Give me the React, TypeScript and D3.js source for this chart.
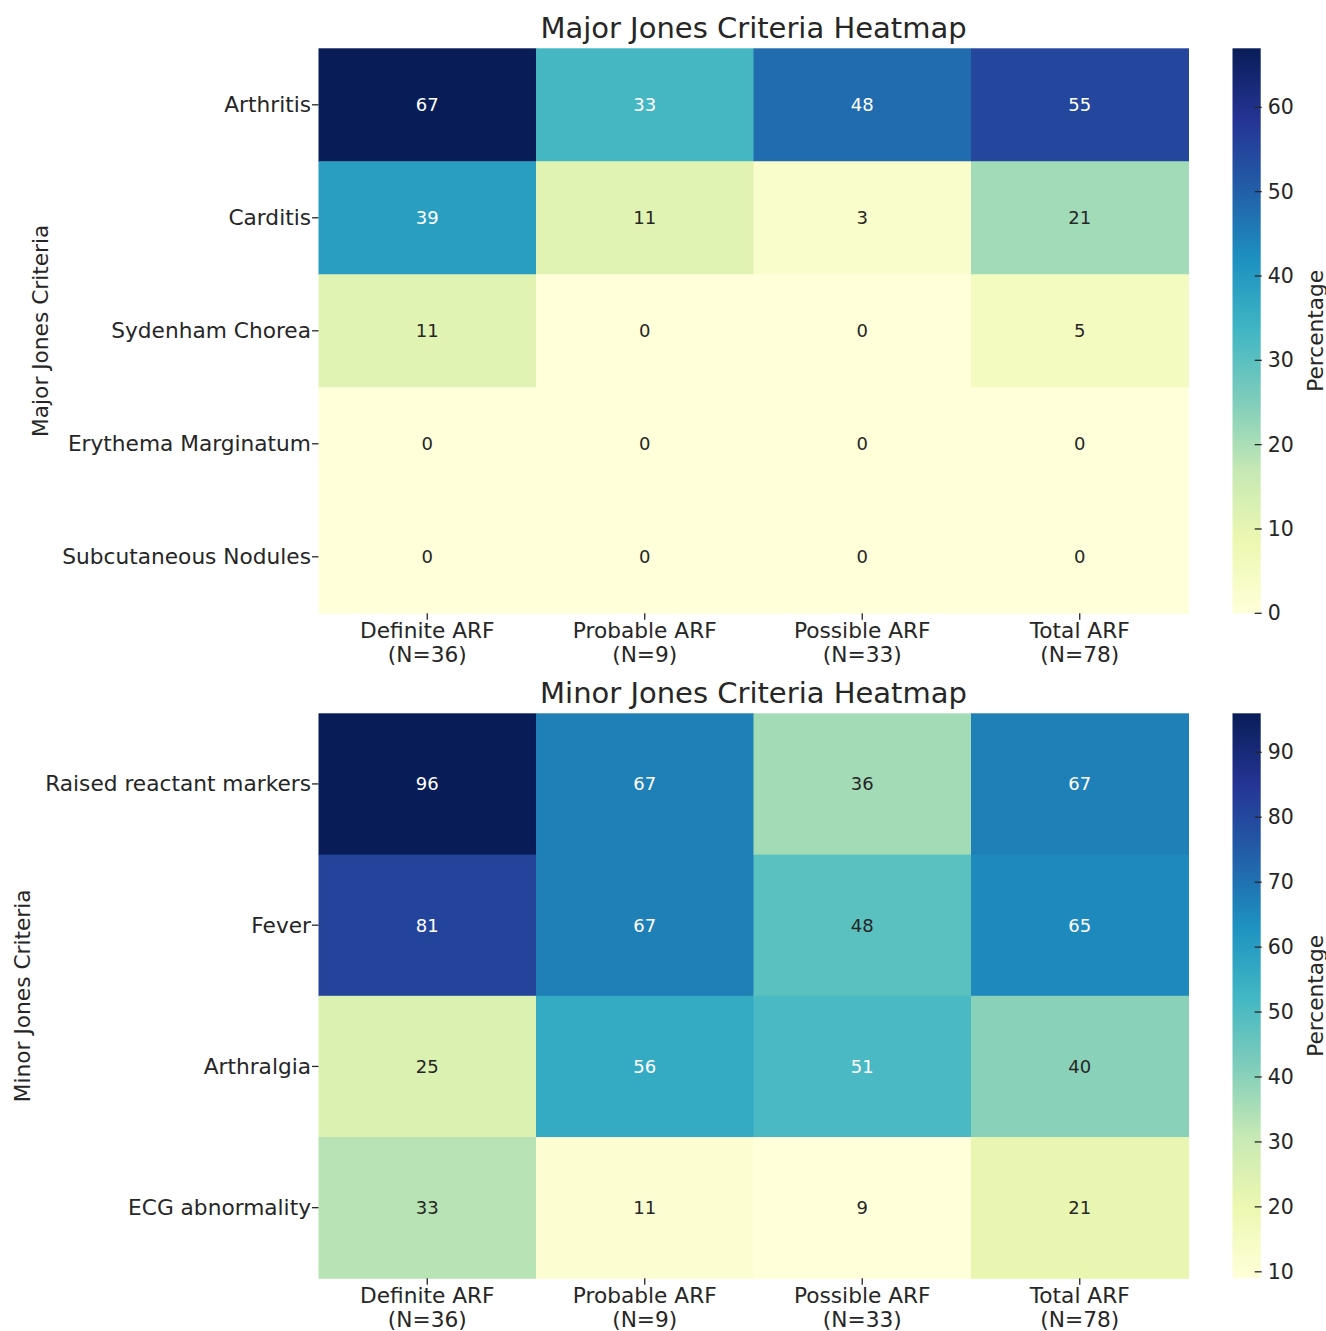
import React from "react";
import * as d3 from "d3";

const columns = ["Definite ARF\n(N=36)", "Probable ARF\n(N=9)", "Possible ARF\n(N=33)", "Total ARF\n(N=78)"];

const majorRows = ["Arthritis", "Carditis", "Sydenham Chorea", "Erythema Marginatum", "Subcutaneous Nodules"];
const majorDefinite = [67, 39, 11, 0, 0];
const majorProbable = [33, 11, 0, 0, 0];
const majorPossible = [48, 3, 0, 0, 0];
const majorTotal = [55, 21, 5, 0, 0];

const minorRows = ["Raised reactant markers", "Fever", "Arthralgia", "ECG abnormality"];
const minorDefinite = [96, 81, 25, 33];
const minorProbable = [67, 67, 56, 11];
const minorPossible = [36, 48, 51, 9];
const minorTotal = [67, 65, 40, 21];

const ylgnbu = ["#ffffd9", "#edf8b1", "#c7e9b4", "#7fcdbb", "#41b6c4", "#1d91c0", "#225ea8", "#253494", "#081d58"];

const FONT = "DejaVu Sans, Verdana, sans-serif";
const TEXT = "#262626";

function cmap(t: number) {
  const s = d3
    .scaleLinear<string>()
    .domain(ylgnbu.map((_, i) => i / (ylgnbu.length - 1)))
    .range(ylgnbu)
    .interpolate(d3.interpolateRgb)
    .clamp(true);
  return s(t);
}

function luminance(c: string) {
  const rgb = d3.rgb(c);
  const lin = (v: number) => {
    const x = v / 255;
    return x <= 0.03928 ? x / 12.92 : Math.pow((x + 0.055) / 1.055, 2.4);
  };
  return 0.2126 * lin(rgb.r) + 0.7152 * lin(rgb.g) + 0.0722 * lin(rgb.b);
}

type PanelProps = {
  id: string;
  title: string;
  ylabel: string;
  rows: string[];
  series: number[][];
  vmin: number;
  vmax: number;
  top: number;
  bottom: number;
  ylabelX: number;
};

const LEFT = 318.5;
const RIGHT = 1188.5;
const CB_L = 1232.5;
const CB_R = 1260.7;

function Panel({ id, title, ylabel, rows, series, vmin, vmax, top, bottom, ylabelX }: PanelProps) {
  const x = d3.scaleBand<string>().domain(columns).range([LEFT, RIGHT]);
  const y = d3.scaleBand<string>().domain(rows).range([top, bottom]);
  const norm = d3.scaleLinear().domain([vmin, vmax]).range([0, 1]);
  const cb = d3.scaleLinear().domain([vmin, vmax]).range([bottom, top]);
  const cbTicks = cb.ticks(8);
  const midY = (top + bottom) / 2;
  const gradId = "grad-" + id;

  return (
    <g>
      <defs>
        <linearGradient id={gradId} x1="0" y1="1" x2="0" y2="0">
          {ylgnbu.map((c, i) => (
            <stop key={i} offset={i / (ylgnbu.length - 1)} stopColor={c} />
          ))}
        </linearGradient>
      </defs>
      <text x={(LEFT + RIGHT) / 2} y={top - 20} textAnchor="middle" fontSize={29} fill={TEXT} fontFamily={FONT} dominantBaseline="central">
        {title}
      </text>
      {columns.map((col, ci) =>
        rows.map((row, ri) => {
          const v = series[ci][ri];
          const c = cmap(norm(v));
          const tc = luminance(c) > 0.408 ? TEXT : "#ffffff";
          return (
            <g key={col + row}>
              <rect x={x(col)!} y={y(row)!} width={x.bandwidth() + 0.5} height={y.bandwidth() + 0.5} fill={c} />
              <text
                x={x(col)! + x.bandwidth() / 2}
                y={y(row)! + y.bandwidth() / 2}
                textAnchor="middle"
                dominantBaseline="central"
                fontSize={18}
                fill={tc}
                fontFamily={FONT}
              >
                {v}
              </text>
            </g>
          );
        })
      )}
      {rows.map((row) => {
        const cy = y(row)! + y.bandwidth() / 2;
        return (
          <g key={"yt" + row}>
            <line x1={LEFT - 6.5} x2={LEFT} y1={cy} y2={cy} stroke={TEXT} strokeWidth={1.3} />
            <text x={LEFT - 7.5} y={cy} textAnchor="end" dominantBaseline="central" fontSize={21.7} fill={TEXT} fontFamily={FONT}>
              {row}
            </text>
          </g>
        );
      })}
      {columns.map((col) => {
        const cx = x(col)! + x.bandwidth() / 2;
        const lines = col.split("\n");
        return (
          <g key={"xt" + col}>
            <line x1={cx} x2={cx} y1={bottom} y2={bottom + 6.5} stroke={TEXT} strokeWidth={1.3} />
            {lines.map((ln, i) => (
              <text key={i} x={cx} y={bottom + 17 + i * 24} textAnchor="middle" dominantBaseline="central" fontSize={21.7} fill={TEXT} fontFamily={FONT}>
                {ln}
              </text>
            ))}
          </g>
        );
      })}
      <text
        transform={`translate(${ylabelX},${midY}) rotate(-90)`}
        textAnchor="middle"
        dominantBaseline="central"
        fontSize={21.7}
        fill={TEXT}
        fontFamily={FONT}
      >
        {ylabel}
      </text>
      <rect x={CB_L} y={top} width={CB_R - CB_L} height={bottom - top} fill={`url(#${gradId})`} />
      {cbTicks.map((t) => (
        <g key={"cb" + t}>
          <line x1={CB_R - 6} x2={CB_R + 1} y1={cb(t)} y2={cb(t)} stroke={TEXT} strokeWidth={1.3} />
          <text x={CB_R + 7} y={cb(t)} dominantBaseline="central" fontSize={20.5} fill={TEXT} fontFamily={FONT}>
            {t}
          </text>
        </g>
      ))}
      <text
        transform={`translate(1315,${midY}) rotate(-90)`}
        textAnchor="middle"
        dominantBaseline="central"
        fontSize={21.7}
        fill={TEXT}
        fontFamily={FONT}
      >
        Percentage
      </text>
    </g>
  );
}

export default function App() {
  return (
    <svg
      width={1326}
      height={1331}
      viewBox="0 0 1326 1331"
      style={{ position: "absolute", left: 0, top: 0, background: "#ffffff" }}
    >
      <rect width={1326} height={1331} fill="#ffffff" />
      <Panel
        id="major"
        title="Major Jones Criteria Heatmap"
        ylabel="Major Jones Criteria"
        rows={majorRows}
        series={[majorDefinite, majorProbable, majorPossible, majorTotal]}
        vmin={0}
        vmax={67}
        top={48.3}
        bottom={613.3}
        ylabelX={40}
      />
      <Panel
        id="minor"
        title="Minor Jones Criteria Heatmap"
        ylabel="Minor Jones Criteria"
        rows={minorRows}
        series={[minorDefinite, minorProbable, minorPossible, minorTotal]}
        vmin={9}
        vmax={96}
        top={713.3}
        bottom={1278.3}
        ylabelX={22}
      />
    </svg>
  );
}
